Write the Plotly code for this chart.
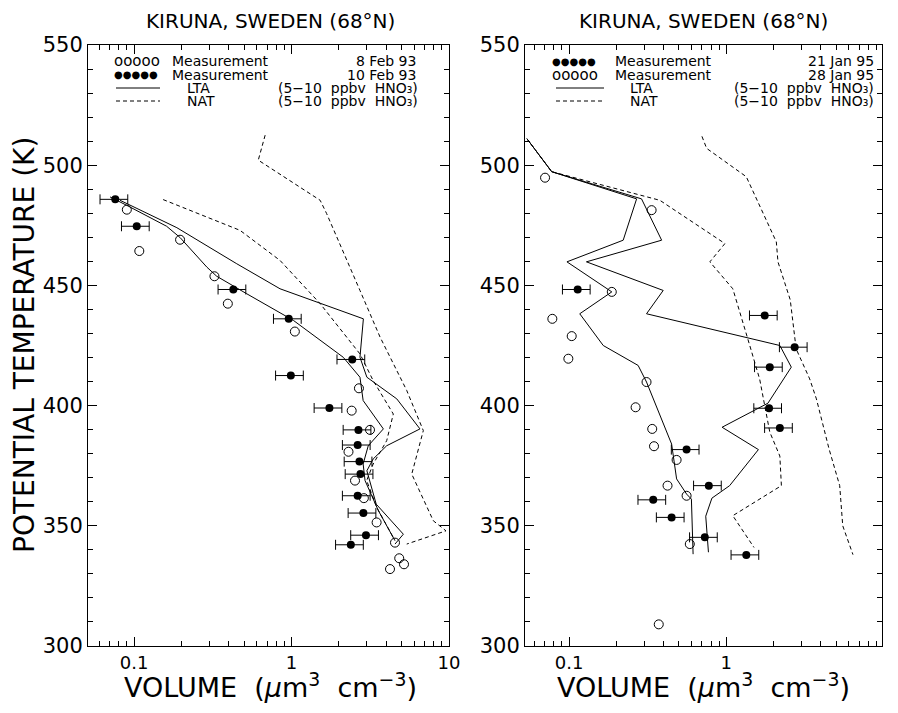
import math
import plotly.graph_objects as go

# ---------------- data ----------------
# Left panel: 8 Feb 93 (open) and 10 Feb 93 (filled)
left_open_v = [0.090, 0.108, 0.196, 0.324, 0.394, 1.05, 2.68, 2.41, 3.15, 2.30, 2.53, 2.88, 3.47, 4.54, 4.22, 4.83, 5.18]
left_open_t = [481.5, 464.3, 469.0, 453.8, 442.4, 430.8, 407.2, 397.9, 389.9, 380.8, 368.8, 361.5, 351.4, 343.0, 332.0, 336.5, 334.0]

left_filled_v = [0.076, 0.104, 0.427, 0.96, 2.43, 0.99, 1.74, 2.66, 2.63, 2.70, 2.74, 2.63, 2.86, 2.97, 2.38]
left_filled_t = [485.8, 474.6, 448.3, 436.1, 419.2, 412.5, 399.0, 389.9, 383.6, 376.7, 371.5, 362.5, 355.3, 346.1, 342.1]

left_lta1_v = [0.0704, 0.0899, 0.161, 0.196, 0.29, 0.335, 0.52, 1.03, 2.13, 2.72, 2.85, 3.83, 3.07, 2.85, 2.93, 3.56, 4.54]
left_lta1_t = [486.8, 483.3, 474.6, 469.9, 457.6, 453.8, 446.5, 435.4, 420.1, 411.8, 402.1, 390.3, 383.3, 375.7, 368.8, 356.3, 343.8]

left_lta2_v = [0.0815, 0.187, 0.449, 0.845, 2.86, 2.72, 3.01, 4.66, 6.54, 4.02, 3.30, 3.01, 3.45, 5.13, 4.54]
left_lta2_t = [485.4, 474.0, 459.0, 448.6, 436.1, 420.1, 411.8, 402.8, 390.3, 383.3, 377.8, 372.9, 359.0, 346.5, 342.4]

left_nat1_v = [0.153, 0.471, 0.845, 1.52, 2.72, 3.30, 4.43, 4.02, 3.30, 3.0, 3.48, 4.43]
left_nat1_t = [485.7, 472.9, 460.4, 442.4, 421.5, 410.4, 396.5, 385.4, 375.7, 368.8, 357.6, 345.1]

left_nat2_v = [0.68, 0.615, 1.52, 1.67, 2.72, 3.65, 5.39, 6.87, 5.8, 7.95, 9.57, 5.39]
left_nat2_t = [512.5, 502.1, 485.4, 479.9, 447.9, 428.5, 406.3, 389.6, 371.5, 352.1, 347.9, 342.4]

# Right panel: 21 Jan 95 (filled) and 28 Jan 95 (open)
right_filled_v = [0.1135, 1.755, 2.72, 1.89, 1.87, 2.19, 0.559, 0.774, 0.343, 0.449, 0.73, 1.34]
right_filled_t = [448.3, 437.5, 424.3, 416.0, 398.9, 390.7, 381.7, 366.7, 360.8, 353.5, 345.2, 337.9]

right_open_v = [0.0704, 0.335, 0.187, 0.0783, 0.104, 0.099, 0.311, 0.265, 0.338, 0.347, 0.483, 0.423, 0.559, 0.586, 0.372]
right_open_t = [494.8, 481.3, 447.3, 436.1, 428.9, 419.5, 409.8, 399.3, 390.3, 383.1, 377.4, 366.7, 362.5, 342.4, 309.0]

right_lta1_v = [0.054, 0.0776, 0.269, 0.221, 0.097, 0.187, 0.117, 0.165, 0.275, 0.311, 0.449, 0.483, 0.559, 0.60, 0.615]
right_lta1_t = [511.0, 497.3, 486.0, 468.8, 459.8, 447.3, 438.2, 425.0, 416.7, 409.8, 384.0, 369.5, 363.2, 361.1, 338.2]

right_lta2_v = [0.054, 0.0776, 0.289, 0.388, 0.129, 0.397, 0.311, 2.19, 2.59, 1.84, 0.94, 1.60, 1.05, 0.81, 0.74, 0.77]
right_lta2_t = [511.0, 497.3, 486.0, 468.8, 459.8, 447.9, 438.2, 425.0, 416.0, 401.0, 391.0, 381.7, 366.7, 361.5, 354.0, 339.0]

right_nat1_v = [0.054, 0.0776, 0.378, 0.98, 0.786, 1.10, 1.41, 1.63, 1.89, 2.19, 2.24, 1.63, 1.10, 1.50]
right_nat1_t = [511.0, 497.3, 485.4, 467.4, 459.8, 448.6, 425.0, 411.0, 389.0, 379.0, 366.7, 361.0, 354.2, 341.0]

right_nat2_v = [0.70, 0.75, 1.34, 2.08, 2.13, 2.55, 2.78, 3.39, 3.74, 4.5, 5.26, 5.5, 6.39]
right_nat2_t = [512.0, 507.0, 495.2, 468.1, 459.8, 444.0, 423.6, 411.1, 402.8, 382.0, 366.7, 350.0, 338.0]

error_percent = 20

x_tick_vals = [0.1, 1, 10]
x_tick_text = ["0.1", "1", "10"]
x_minor_vals = [0.06, 0.07, 0.08, 0.09, 0.2, 0.3, 0.4, 0.5, 0.6, 0.7, 0.8, 0.9,
                2, 3, 4, 5, 6, 7, 8, 9]

title_text = "KIRUNA, SWEDEN (68°N)"
left_labels = ["Measurement", "8 Feb 93", "Measurement", "10 Feb 93"]
right_labels = ["Measurement", "21 Jan 95", "Measurement", "28 Jan 95"]
model_labels = ["LTA", "NAT"]
model_range = "(5−10\u00a0 ppbv\u00a0 HNO₃)"

# ---------------- figure ----------------
OFF = 8                      # page body margin of the browser
W, H = 898 - 2 * OFF, 713 - 2 * OFF
FONT = "DejaVu Sans"


def px(x):
    return (x - OFF) / W


def py(y):
    return 1 - (y - OFF) / H


fig = go.Figure()

line_style = dict(color="black", width=1)
dash_style = dict(color="black", width=1, dash="4px,3px")
err = dict(type="percent", value=error_percent, color="black", thickness=1, width=5)


def add_panel(xa, ya, open_v, open_t, filled_v, filled_t, lines, dashes):
    for v, t in lines:
        fig.add_trace(go.Scatter(x=v, y=t, mode="lines", line=line_style,
                                 xaxis=xa, yaxis=ya, showlegend=False, hoverinfo="skip"))
    for v, t in dashes:
        fig.add_trace(go.Scatter(x=v, y=t, mode="lines", line=dash_style,
                                 xaxis=xa, yaxis=ya, showlegend=False, hoverinfo="skip"))
    fig.add_trace(go.Scatter(x=open_v, y=open_t, mode="markers",
                             marker=dict(symbol="circle-open", size=9, color="black",
                                         line=dict(width=1, color="black")),
                             xaxis=xa, yaxis=ya, showlegend=False))
    fig.add_trace(go.Scatter(x=filled_v, y=filled_t, mode="markers",
                             marker=dict(symbol="circle", size=8, color="black"),
                             error_x=err, xaxis=xa, yaxis=ya, showlegend=False))


add_panel("x", "y", left_open_v, left_open_t, left_filled_v, left_filled_t,
          [(left_lta1_v, left_lta1_t), (left_lta2_v, left_lta2_t)],
          [(left_nat1_v, left_nat1_t), (left_nat2_v, left_nat2_t)])
add_panel("x2", "y2", right_open_v, right_open_t, right_filled_v, right_filled_t,
          [(right_lta1_v, right_lta1_t), (right_lta2_v, right_lta2_t)],
          [(right_nat1_v, right_nat1_t), (right_nat2_v, right_nat2_t)])

ydom = [py(646), py(45)]


def xaxis_cfg(dom, rng, anchor):
    return dict(domain=dom, type="log", range=rng, tickvals=x_tick_vals, ticktext=x_tick_text,
                anchor=anchor, automargin=False,
                ticks="inside", ticklen=9, tickwidth=1, tickcolor="black",
                showline=True, linecolor="black", linewidth=1, mirror="ticks",
                showgrid=False, zeroline=False,
                tickfont=dict(family=FONT, size=18, color="black"),
                minor=dict(tickvals=x_minor_vals, ticks="inside", ticklen=5,
                           tickcolor="black", tickwidth=1, showgrid=False))


def yaxis_cfg(anchor):
    return dict(domain=ydom, range=[300, 550], tick0=300, dtick=50, anchor=anchor,
                automargin=False,
                ticks="inside", ticklen=9, tickwidth=1, tickcolor="black",
                showline=True, linecolor="black", linewidth=1, mirror="ticks",
                showgrid=False, zeroline=False,
                tickfont=dict(family=FONT, size=21, color="black"),
                minor=dict(dtick=10, ticks="inside", ticklen=5, tickcolor="black",
                           tickwidth=1, showgrid=False))


fig.update_layout(
    template="none",
    width=W, height=H, margin=dict(l=0, r=0, t=0, b=0, pad=0),
    paper_bgcolor="white", plot_bgcolor="white",
    font=dict(family=FONT, color="black"),
    showlegend=False,
    xaxis=xaxis_cfg([px(88), px(449)], [math.log10(0.051), 1.0], "y"),
    yaxis=yaxis_cfg("x"),
    xaxis2=xaxis_cfg([px(525), px(882)], [-1.28, 0.99], "y2"),
    yaxis2=yaxis_cfg("x2"),
)

ann = []
shapes = []


def text(x, y, s, size, xanchor="center", textangle=0):
    ann.append(dict(x=px(x), y=py(y), xref="paper", yref="paper", text=s, showarrow=False,
                    xanchor=xanchor, yanchor="middle", textangle=textangle,
                    font=dict(family=FONT, size=size, color="black")))


# titles
text(270, 21, title_text, 20)
text(703, 21, title_text, 20)

# axis titles
text(24, 345, "POTENTIAL TEMPERATURE (K)", 28, textangle=-90)
xlab = "VOLUME\u00a0\u00a0(<i>μ</i>m<sup>3</sup>\u00a0\u00a0cm<sup>−3</sup>)"
text(270, 685, xlab, 27)
text(703, 685, xlab, 27)

rows = [61, 74.5, 88, 101]
LS = 14

# left legend
text(112, rows[0], "ooooo", 15, "left")
text(112, rows[1], "●●●●●", 10, "left")
text(170, rows[0], left_labels[0], LS, "left")
text(418, rows[0], left_labels[1], LS, "right")
text(170, rows[1], left_labels[2], LS, "left")
text(418, rows[1], left_labels[3], LS, "right")
text(185, rows[2], model_labels[0], LS, "left")
text(420, rows[2], model_range, LS, "right")
text(185, rows[3], model_labels[1], LS, "left")
text(420, rows[3], model_range, LS, "right")
shapes.append(dict(type="line", xref="paper", yref="paper", x0=px(116), x1=px(160),
                   y0=py(rows[2]), y1=py(rows[2]), line=line_style))
shapes.append(dict(type="line", xref="paper", yref="paper", x0=px(116), x1=px(160),
                   y0=py(rows[3]), y1=py(rows[3]), line=dash_style))

# right legend
text(550, rows[0], "●●●●●", 10, "left")
text(550, rows[1], "ooooo", 15, "left")
text(613, rows[0], right_labels[0], LS, "left")
text(876, rows[0], right_labels[1], LS, "right")
text(613, rows[1], right_labels[2], LS, "left")
text(876, rows[1], right_labels[3], LS, "right")
text(628, rows[2], model_labels[0], LS, "left")
text(876, rows[2], model_range, LS, "right")
text(628, rows[3], model_labels[1], LS, "left")
text(876, rows[3], model_range, LS, "right")
shapes.append(dict(type="line", xref="paper", yref="paper", x0=px(556), x1=px(604),
                   y0=py(rows[2]), y1=py(rows[2]), line=line_style))
shapes.append(dict(type="line", xref="paper", yref="paper", x0=px(556), x1=px(604),
                   y0=py(rows[3]), y1=py(rows[3]), line=dash_style))

fig.update_layout(annotations=ann, shapes=shapes)

fig.write_html("out.html")
